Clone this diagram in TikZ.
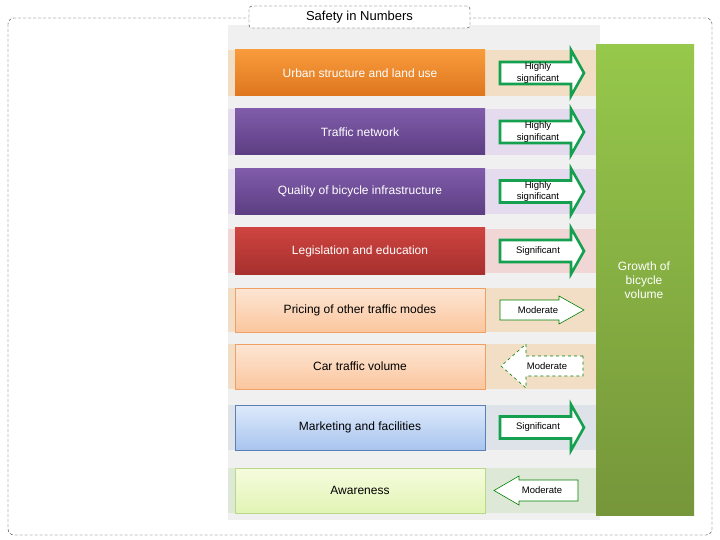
\documentclass[tikz,border=0pt]{standalone}
\usepackage{fontspec}
\setmainfont{Liberation Sans}
\begin{document}
\begin{tikzpicture}[x=1pt,y=-1pt,
  lbl/.style={font=\fontsize{12}{14}\selectfont, align=center},
  sml/.style={font=\fontsize{9.5}{11.5}\selectfont, align=center},
  thick arr/.style={line width=2.6pt, fill=white, line join=miter},
  thin arr/.style={draw=green!50!black, line width=0.6pt, fill=white},
  fbox/.style={draw=none, minimum width=250pt, minimum height=46pt, inner sep=0pt}]
\definecolor{arrg}{HTML}{14A04E}
\definecolor{bor}{RGB}{242,222,196}
\definecolor{bpu}{RGB}{228,220,238}
\definecolor{bre}{RGB}{240,214,212}
\definecolor{bbl}{RGB}{222,227,234}
\definecolor{bgr}{RGB}{222,232,214}
\useasboundingbox (0,0) rectangle (720,540);
\fill[white] (0,0) rectangle (720,540);
\draw[rounded corners=6pt, black!80, dash pattern=on 3pt off 2pt] (8,18) rectangle (712,535);
\fill[gray!12] (228,25) rectangle (600,520);
% bands
\fill[bor] (228,50) rectangle (596,96);
\fill[bpu] (228,109) rectangle (596,155);
\fill[bpu] (228,169) rectangle (596,214);
\fill[bre] (228,229) rectangle (596,273);
\fill[bor] (228,288) rectangle (596,332);
\fill[bor] (228,344) rectangle (596,389);
\fill[bbl] (228,405) rectangle (596,450);
\fill[bgr] (228,468) rectangle (596,513);
% green target
\shade[top color={rgb,255:red,150;green,200;blue,75}, bottom color={rgb,255:red,118;green,150;blue,58}] (596,45) rectangle (694,515);
\node[lbl, text=white] (g) at (644,280) {Growth of\\bicycle\\volume};
% boxes
\node[fbox, top color={rgb,255:red,248;green,155;blue,60}, bottom color={rgb,255:red,222;green,118;blue,30}, text=white, lbl] (b1) at (360,73) {Urban structure and land use};
\node[fbox, top color={rgb,255:red,128;green,92;blue,170}, bottom color={rgb,255:red,92;green,62;blue,130}, text=white, lbl] (b2) at (360,132) {Traffic network};
\node[fbox, top color={rgb,255:red,128;green,92;blue,170}, bottom color={rgb,255:red,92;green,62;blue,130}, text=white, lbl] (b3) at (360,191.5) {Quality of bicycle infrastructure};
\node[fbox, top color={rgb,255:red,206;green,68;blue,64}, bottom color={rgb,255:red,166;green,48;blue,46}, text=white, lbl] (b4) at (360,251) {Legislation and education};
\node[fbox, draw={rgb,255:red,240;green,160;blue,100}, top color={rgb,255:red,253;green,230;blue,212}, bottom color={rgb,255:red,251;green,198;blue,158}, lbl, minimum height=44pt] (b5) at (360,310) {Pricing of other traffic modes};
\node[fbox, draw={rgb,255:red,240;green,160;blue,100}, top color={rgb,255:red,253;green,230;blue,212}, bottom color={rgb,255:red,251;green,198;blue,158}, lbl, minimum height=45pt] (b6) at (360,366.5) {Car traffic volume};
\node[fbox, draw={rgb,255:red,90;green,128;blue,184}, top color={rgb,255:red,222;green,234;blue,251}, bottom color={rgb,255:red,168;green,196;blue,238}, lbl, minimum height=45pt] (b7) at (360,427.5) {Marketing and facilities};
\node[fbox, draw={rgb,255:red,184;green,216;blue,138}, top color={rgb,255:red,245;green,252;blue,222}, bottom color={rgb,255:red,226;green,244;blue,181}, lbl, minimum height=45pt] (b8) at (360,490.5) {Awareness};
% right thick arrows
\foreach \y/\t in {73/{Highly\\significant},132/{Highly\\significant},191.5/{Highly\\significant},251/{Significant},427.5/{Significant}}{
  \draw[thick arr, draw=arrg] (500,\y-11) -- (571,\y-11) -- (571,\y-23) -- (584,\y) -- (571,\y+23) -- (571,\y+11) -- (500,\y+11) -- cycle;
  \node[sml] at (538,\y) {\t};
}
% moderate right
\draw[thin arr] (500,300) -- (559,300) -- (559,296) -- (584,310) -- (559,324) -- (559,320) -- (500,320) -- cycle;
\node[sml] (m5) at (538,310) {Moderate};
% moderate left
\draw[thin arr, dashed] (583,356) -- (526,356) -- (526,344) -- (501,366) -- (526,388) -- (526,376) -- (583,376) -- cycle;
\node[sml] (m6) at (547,366) {Moderate};
\draw[thin arr] (578,480) -- (519,480) -- (519,476) -- (494,490.5) -- (519,505) -- (519,501) -- (578,501) -- cycle;
\node[sml] (m8) at (542,490.5) {Moderate};
% title
\node[draw=black!80, dash pattern=on 3pt off 2pt, rounded corners=3pt, fill=white, minimum width=221pt, minimum height=22pt, font=\fontsize{13}{15}\selectfont] (t) at (359.5,17) {Safety in Numbers};
\end{tikzpicture}
\end{document}
